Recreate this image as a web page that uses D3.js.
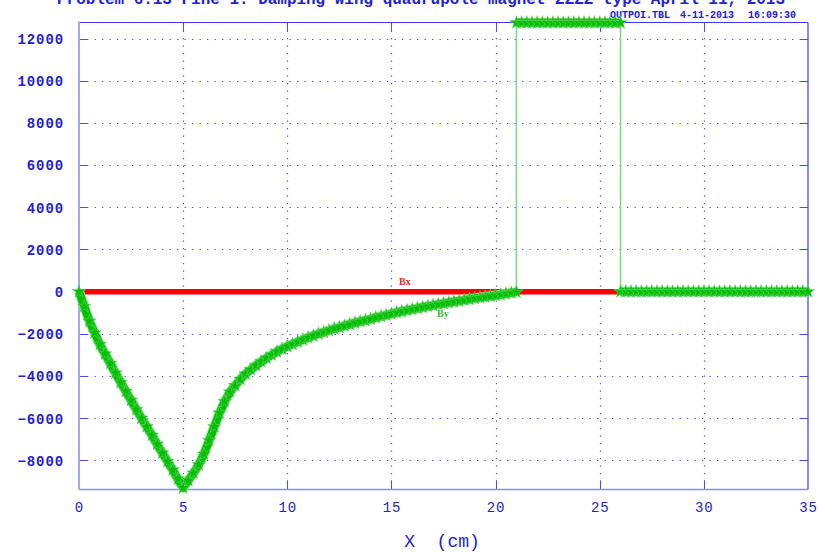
<!DOCTYPE html>
<html>
<head>
<meta charset="utf-8">
<script src="https://cdn.jsdelivr.net/npm/d3@7"></script>
<style>
  html, body { margin: 0; padding: 0; background: #ffffff; }
  svg { display: block; }
</style>
</head>
<body>
<svg id="chart" width="819" height="553"></svg>
<script>
// Field components along the beam axis (OUTPOI.TBL)
const xTicks = [0, 5, 10, 15, 20, 25, 30, 35];
const yTicks = [-8000, -6000, -4000, -2000, 0, 2000, 4000, 6000, 8000, 10000, 12000];
const yRange = [-9380, 12760];

// Bx: stays at zero over the whole run
const bxX = [0, 35];
const bxY = [0, 0];

// By sample positions (cm); repeated positions mark the steps at 21 and 26 cm
const byX = [
  0, 0.25, 0.5, 0.75, 1, 1.25, 1.5, 1.75, 2, 2.25, 2.5, 2.75, 3, 3.25, 3.5, 3.75, 4, 4.25, 4.5, 4.75, 5,
  5.25, 5.5, 5.75, 6, 6.25, 6.5, 6.75, 7, 7.25, 7.5, 7.75, 8, 8.25, 8.5, 8.75, 9, 9.25, 9.5, 9.75, 10,
  10.25, 10.5, 10.75, 11, 11.25, 11.5, 11.75, 12, 12.25, 12.5, 12.75, 13, 13.25, 13.5, 13.75, 14,
  14.25, 14.5, 14.75, 15, 15.25, 15.5, 15.75, 16, 16.25, 16.5, 16.75, 17, 17.25, 17.5, 17.75, 18,
  18.25, 18.5, 18.75, 19, 19.25, 19.5, 19.75, 20, 20.25, 20.5, 20.75, 21,
  21, 21.25, 21.5, 21.75, 22, 22.25, 22.5, 22.75, 23, 23.25, 23.5, 23.75, 24, 24.25, 24.5, 24.75, 25,
  25.25, 25.5, 25.75, 26,
  26, 26.25, 26.5, 26.75, 27, 27.25, 27.5, 27.75, 28, 28.25, 28.5, 28.75, 29, 29.25, 29.5, 29.75, 30,
  30.25, 30.5, 30.75, 31, 31.25, 31.5, 31.75, 32, 32.25, 32.5, 32.75, 33, 33.25, 33.5, 33.75, 34,
  34.25, 34.5, 34.75, 35
];
// By values (gauss)
const byY = [
  0, -700, -1400, -1950, -2500, -2950, -3400, -3850, -4300, -4720, -5150, -5580, -6000, -6400, -6800, -7230, -7650, -8050, -8450, -8880, -9300,
  -8950, -8600, -8200, -7700, -7050, -6400, -5750, -5200, -4750, -4450, -4150, -3900, -3700, -3500, -3320, -3150, -3000, -2850, -2720, -2600,
  -2490, -2380, -2280, -2180, -2090, -2000, -1920, -1840, -1760, -1690, -1620, -1550, -1480, -1420, -1360, -1300,
  -1230, -1170, -1110, -1050, -990, -940, -890, -840, -790, -740, -695, -650, -605, -560, -520, -480,
  -440, -400, -360, -320, -285, -250, -215, -180, -140, -100, -60, -20,
  12750, 12750, 12750, 12750, 12750, 12750, 12750, 12750, 12750, 12750, 12750, 12750, 12750, 12750, 12750, 12750, 12750,
  12750, 12750, 12750, 12750,
  0, 0, 0, 0, 0, 0, 0, 0, 0, 0, 0, 0, 0, 0, 0, 0, 0,
  0, 0, 0, 0, 0, 0, 0, 0, 0, 0, 0, 0, 0, 0, 0, 0,
  0, 0, 0, 0
];

const titleText = "Problem 6.13 Fine 1. Damping wing quadrupole magnet ZZZZ type April 11, 2013";
const fileText = "OUTPOI.TBL";
const dateText = "4-11-2013";
const timeText = "16:09:30";
const xLabel = "X  (cm)";

const svg = d3.select("#chart");
const plot = { left: 79, right: 808, top: 22.5, bottom: 489.5 };

const x = d3.scaleLinear().domain([0, 35]).range([plot.left, plot.right]);
const y = d3.scaleLinear().domain(yRange).range([plot.bottom, plot.top]);

const gridColor = "#4a4af0";
const labelColor = "#2222d4";
const mono = "'Liberation Mono', 'DejaVu Sans Mono', monospace";

// Grid: dotted lines with a short solid stub at each end
const grid = svg.append("g");
yTicks.forEach(v => {
  const yy = Math.round(y(v)) + 0.5;
  grid.append("line").attr("x1", plot.left + 8).attr("x2", plot.right)
    .attr("y1", yy).attr("y2", yy)
    .attr("stroke", gridColor).attr("stroke-width", 1.2)
    .attr("stroke-dasharray", "1.3,6.2");
  grid.append("line").attr("x1", plot.left).attr("x2", plot.left + 8)
    .attr("y1", yy).attr("y2", yy).attr("stroke", gridColor).attr("stroke-width", 1);
  grid.append("line").attr("x1", plot.right - 8).attr("x2", plot.right)
    .attr("y1", yy).attr("y2", yy).attr("stroke", gridColor).attr("stroke-width", 1);
});
xTicks.slice(1, -1).forEach(v => {
  const xx = Math.round(x(v)) + 0.5;
  grid.append("line").attr("x1", xx).attr("x2", xx)
    .attr("y1", plot.top + 8).attr("y2", plot.bottom - 8)
    .attr("stroke", gridColor).attr("stroke-width", 1.2)
    .attr("stroke-dasharray", "1.3,6.2");
  grid.append("line").attr("x1", xx).attr("x2", xx)
    .attr("y1", plot.bottom - 9).attr("y2", plot.bottom).attr("stroke", gridColor).attr("stroke-width", 1);
  grid.append("line").attr("x1", xx).attr("x2", xx)
    .attr("y1", plot.top).attr("y2", plot.top + 9).attr("stroke", gridColor).attr("stroke-width", 1);
});

// Frame
svg.append("line").attr("x1", plot.left).attr("x2", plot.right).attr("y1", plot.top).attr("y2", plot.top)
  .attr("stroke", "#3a3aee").attr("stroke-width", 1.2);
svg.append("line").attr("x1", plot.right).attr("x2", plot.right).attr("y1", plot.top).attr("y2", plot.bottom)
  .attr("stroke", "#3a3aee").attr("stroke-width", 1.2);
svg.append("line").attr("x1", plot.left).attr("x2", plot.right).attr("y1", plot.bottom).attr("y2", plot.bottom)
  .attr("stroke", "#8c8cf0").attr("stroke-width", 1.6);
svg.append("line").attr("x1", plot.left).attr("x2", plot.left).attr("y1", plot.top - 1).attr("y2", plot.bottom)
  .attr("stroke", "#a4a4f4").attr("stroke-width", 2);

// Tick labels
const yAxis = d3.axisLeft(y).tickValues(yTicks).tickSize(0).tickPadding(0).tickFormat(d3.format("d"));
const ya = svg.append("g").attr("transform", `translate(${plot.left - 15},0)`).call(yAxis);
ya.select(".domain").remove();
ya.selectAll("text").attr("fill", labelColor).attr("font-family", mono)
  .attr("font-weight", "bold").attr("font-size", 14).attr("letter-spacing", 0.9)
  .attr("dy", "0.35em");

const xAxis = d3.axisBottom(x).tickValues(xTicks).tickSize(0).tickPadding(0).tickFormat(d3.format("d"));
const xa = svg.append("g").attr("transform", `translate(0,${plot.bottom + 13})`).call(xAxis);
xa.select(".domain").remove();
xa.selectAll("text").attr("fill", labelColor).attr("font-family", mono)
  .attr("font-size", 14).attr("letter-spacing", 0.9).attr("dy", "0.71em");

// Axis title
svg.append("text").attr("x", 442).attr("y", 547).attr("text-anchor", "middle")
  .attr("fill", labelColor).attr("font-family", mono).attr("font-size", 18)
  .attr("xml:space", "preserve").style("white-space", "pre").text(xLabel);

// Heading (runs off the top edge) and file stamp
svg.append("text").attr("x", 57).attr("y", 4).attr("textLength", 728)
  .attr("fill", labelColor).attr("font-family", mono).attr("font-weight", "bold").attr("font-size", 16)
  .text(titleText);
const stamp = svg.append("g").attr("fill", labelColor).attr("font-family", mono)
  .attr("font-weight", "bold").attr("font-size", 10);
stamp.append("text").attr("x", 610).attr("y", 18).text(fileText);
stamp.append("text").attr("x", 680).attr("y", 18).text(dateText);
stamp.append("text").attr("x", 748).attr("y", 18).text(timeText);

// Bx trace
const bxData = bxX.map((v, i) => [v, bxY[i]]);
svg.append("path").datum(bxData)
  .attr("d", d3.line().x(d => x(d[0])).y(d => y(d[1])))
  .attr("fill", "none").attr("stroke", "#ff0000").attr("stroke-width", 5.5);

// By trace: thin connecting line, thick band on each continuous run, star markers
const byData = byX.map((v, i) => [v, byY[i]]);
svg.append("path").datum(byData)
  .attr("d", d3.line().x(d => x(d[0])).y(d => y(d[1])))
  .attr("fill", "none").attr("stroke", "#7fd67f").attr("stroke-width", 1.5);

const runs = [];
let cur = [byData[0]];
for (let i = 1; i < byData.length; i++) {
  if (byData[i][0] === byData[i - 1][0]) { runs.push(cur); cur = [byData[i]]; }
  else cur.push(byData[i]);
}
runs.push(cur);
const bandLine = d3.line().x(d => x(d[0])).y(d => y(d[1]));
runs.forEach(r => {
  svg.append("path").datum(r).attr("d", bandLine)
    .attr("fill", "none").attr("stroke", "#9ee69e").attr("stroke-width", 10)
    .attr("stroke-linejoin", "round");
  svg.append("path").datum(r).attr("d", bandLine)
    .attr("fill", "none").attr("stroke", "#00c000").attr("stroke-width", 8)
    .attr("stroke-linejoin", "round");
});
const star = d3.symbol().type(d3.symbolStar).size(55);
svg.append("g").selectAll("path").data(byData).join("path")
  .attr("transform", d => `translate(${x(d[0])},${y(d[1])})`)
  .attr("d", star).attr("fill", "#00c000").attr("stroke", "#6fd06f").attr("stroke-width", 0.6);

// Trace labels
svg.append("text").attr("x", 399).attr("y", 285).attr("fill", "#ff2020")
  .attr("font-family", "'Liberation Serif', serif").attr("font-weight", "bold").attr("font-size", 10).text("Bx");
svg.append("text").attr("x", 437).attr("y", 317).attr("fill", "#30c030")
  .attr("font-family", "'Liberation Serif', serif").attr("font-weight", "bold").attr("font-size", 10).text("By");
</script>
</body>
</html>
